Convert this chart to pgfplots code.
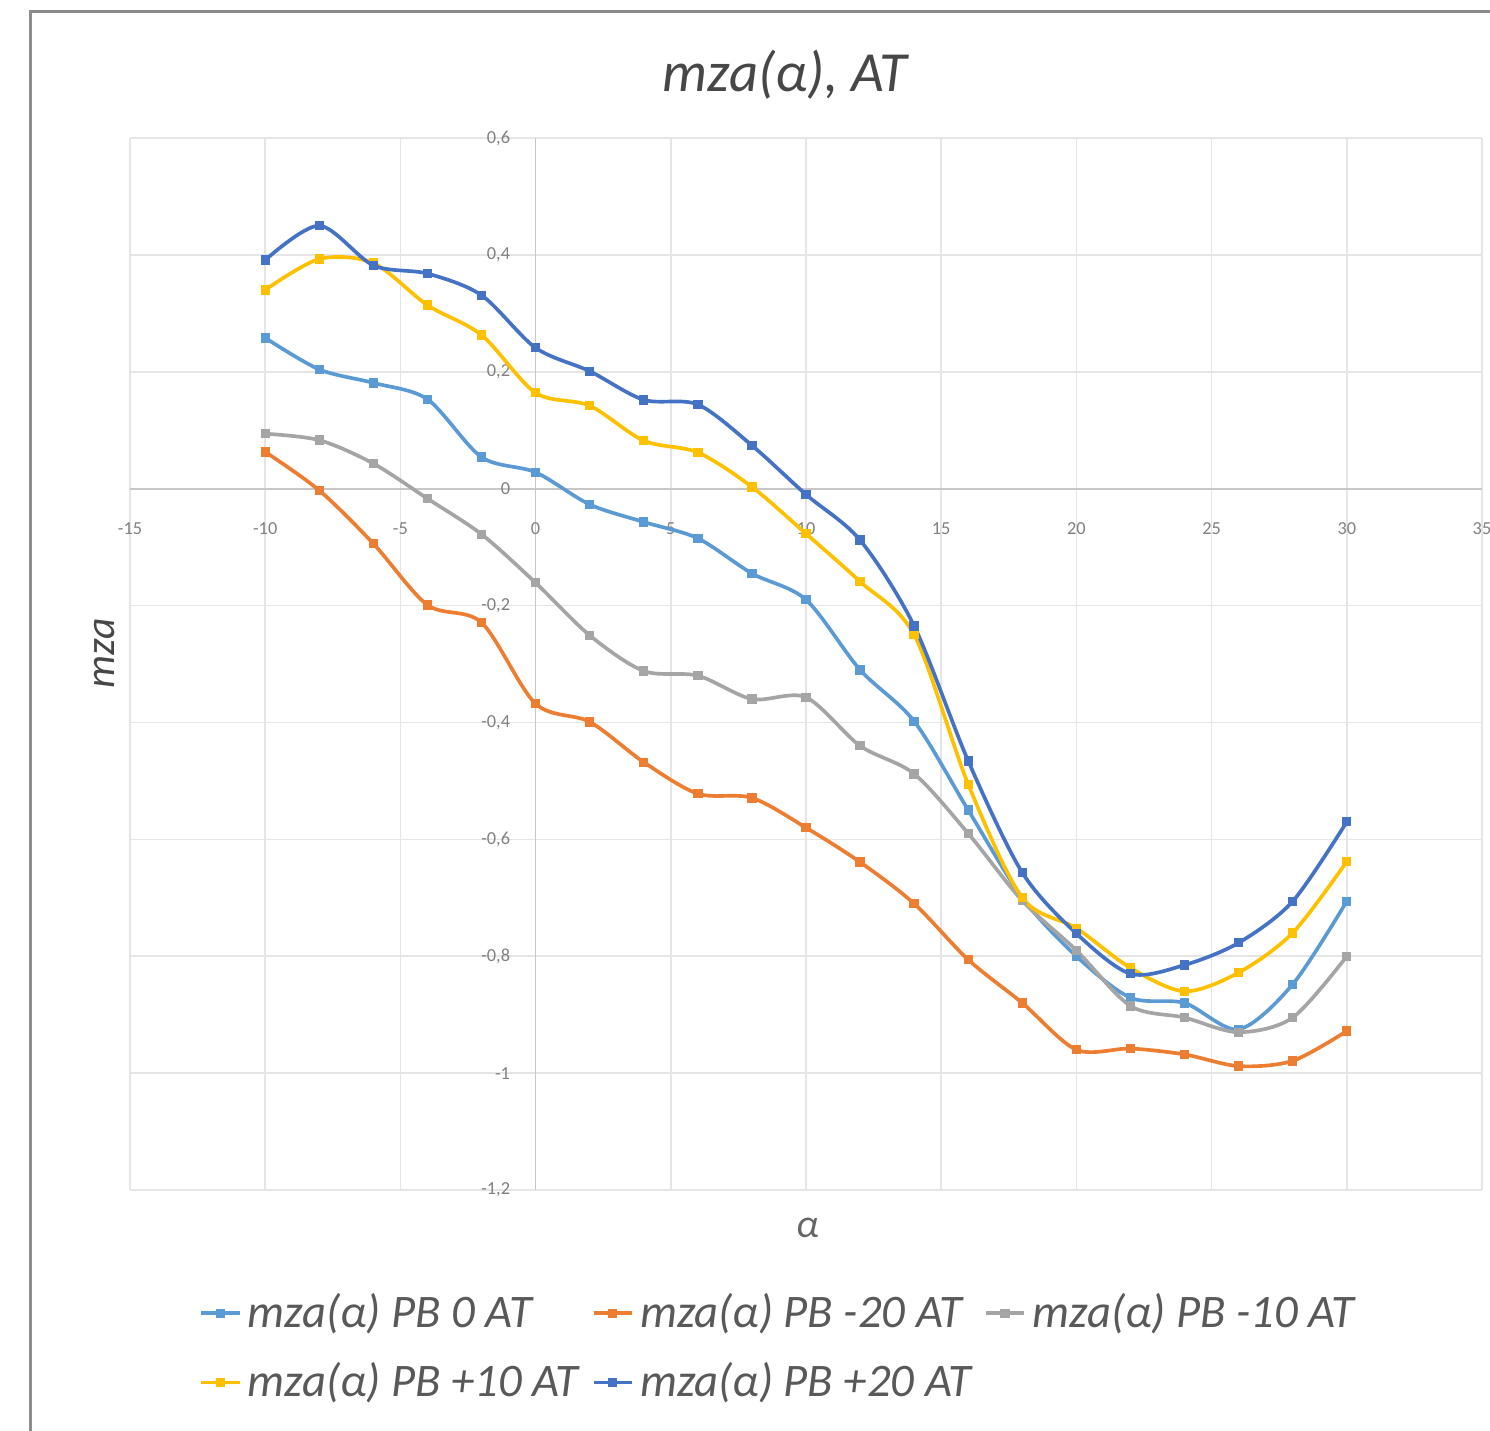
\documentclass[border=0pt]{standalone}
\usepackage{fontspec}
\setmainfont{Carlito}
\usepackage{pgfplots}
\usepackage{pgfplotstable}
\pgfplotsset{compat=1.18}
\definecolor{c1}{HTML}{5B9BD5}
\definecolor{c2}{HTML}{ED7D31}
\definecolor{c3}{HTML}{A5A5A5}
\definecolor{c4}{HTML}{FFC000}
\definecolor{c5}{HTML}{4472C4}
\pgfplotstableread{
x    a      b      c      d      e
-10  0.258  0.063  0.094  0.340  0.391
-8   0.204 -0.003  0.083  0.393  0.450
-6   0.181 -0.094  0.043  0.386  0.382
-4   0.153 -0.199 -0.017  0.314  0.368
-2   0.054 -0.229 -0.078  0.263  0.331
0    0.028 -0.368 -0.161  0.164  0.241
2   -0.027 -0.399 -0.251  0.142  0.201
4   -0.057 -0.468 -0.312  0.082  0.152
6   -0.085 -0.522 -0.320  0.062  0.144
8   -0.145 -0.529 -0.360  0.003  0.074
10  -0.190 -0.580 -0.357 -0.077 -0.010
12  -0.310 -0.639 -0.440 -0.159 -0.088
14  -0.398 -0.710 -0.488 -0.250 -0.235
16  -0.550 -0.806 -0.590 -0.506 -0.466
18  -0.700 -0.880 -0.705 -0.700 -0.657
20  -0.800 -0.960 -0.790 -0.752 -0.761
22  -0.871 -0.958 -0.885 -0.820 -0.830
24  -0.880 -0.968 -0.905 -0.860 -0.815
26  -0.925 -0.988 -0.930 -0.828 -0.777
28  -0.848 -0.979 -0.905 -0.760 -0.706
30  -0.706 -0.928 -0.800 -0.638 -0.570
}\datatable
\begin{document}
\begin{tikzpicture}
\begin{axis}[
  at={(39pt,72pt)}, anchor=south west,
  scale only axis, width=405.6pt, height=315.6pt,
  xmin=-15, xmax=35, ymin=-1.2, ymax=0.6,
  xtick={-15,-10,-5,0,5,10,15,20,25,30,35},
  ytick={-1.2,-1,-0.8,-0.6,-0.4,-0.2,0,0.2,0.4,0.6},
  axis lines=middle,
  axis line style={draw=black!22, line width=0.5pt, -},
  grid=major,
  major grid style={draw=black!10, line width=0.5pt},
  tick style={draw=none},
  hide obscured x ticks=false, hide obscured y ticks=false,
  ticklabel style={font=\fontsize{5.5}{6}\selectfont, text=black!50},
  xticklabel style={anchor=north, yshift=-4.5pt},
  yticklabel style={anchor=east, xshift=-2pt},
  /pgf/number format/.cd, use comma, assume math mode=true, /pgfplots/.cd,
  title={\itshape mza(α), AT},
  title style={at={(axis description cs:0.4845,1.041)}, anchor=center, font=\fontsize{17}{19}\selectfont, text=black!72},
  ylabel={\itshape mza},
  ylabel style={at={(axis description cs:-0.0185,0.51)}, anchor=center, rotate=90, font=\fontsize{12.5}{14}\selectfont, text=black!72},
  xlabel={\itshape α},
  xlabel style={at={(axis description cs:0.5015,-0.036)}, anchor=center, font=\fontsize{12}{14}\selectfont, text=black!60},
  legend image code/.code={\draw[mark repeat=2,mark phase=2,#1] plot coordinates {(0cm,0cm) (0.2cm,0cm) (0.4cm,0cm)};},
  legend style={at={(axis description cs:0.481,-0.150)}, anchor=center, draw=none, fill=none,
    font=\fontsize{14}{16}\selectfont\itshape, text=black!65, row sep=5pt,
    /tikz/every even column/.append style={column sep=2pt}},
  legend columns=3, legend cell align=left,
  every axis plot/.append style={line width=1.1pt, smooth, tension=0.5, mark=square*, mark size=0.85pt},
]
\addplot[c1] table[x=x, y=a] {\datatable};
\addlegendentry{mza(α) PB 0 AT}
\addplot[c2] table[x=x, y=b] {\datatable};
\addlegendentry{mza(α) PB -20 AT}
\addplot[c3] table[x=x, y=c] {\datatable};
\addlegendentry{mza(α) PB -10 AT}
\addplot[c4] table[x=x, y=d] {\datatable};
\addlegendentry{mza(α) PB +10 AT}
\addplot[c5] table[x=x, y=e] {\datatable};
\addlegendentry{mza(α) PB +20 AT}
\end{axis}
\draw[black!45, line width=0.9pt] (9pt,-10pt) -- (9pt,425.4pt) -- (470pt,425.4pt);
\pgfresetboundingbox
\useasboundingbox (0,0) rectangle (447pt,429pt);
\end{tikzpicture}
\end{document}
